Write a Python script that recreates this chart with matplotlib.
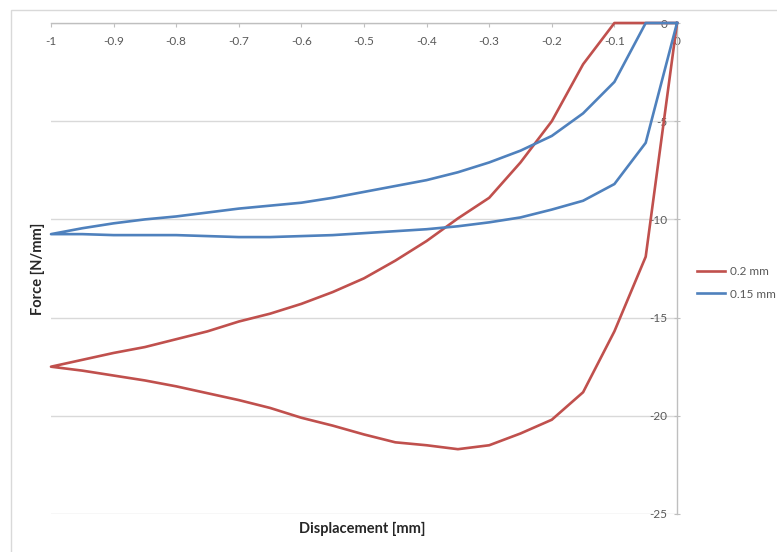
import matplotlib
matplotlib.use("Agg")
import matplotlib.pyplot as plt
from matplotlib.patches import Rectangle

plt.rcParams["font.family"] = ["Lato", "DejaVu Sans"]
plt.rcParams["axes.unicode_minus"] = False

# Displacement steps (mm), from 0 out to -1 and back again
disp_out = [0, -0.05, -0.1, -0.15, -0.2, -0.25, -0.3, -0.35, -0.4, -0.45, -0.5,
            -0.55, -0.6, -0.65, -0.7, -0.75, -0.8, -0.85, -0.9, -0.95, -1.0]
disp_back = [-0.95, -0.9, -0.85, -0.8, -0.75, -0.7, -0.65, -0.6, -0.55, -0.5,
             -0.45, -0.4, -0.35, -0.3, -0.25, -0.2, -0.15, -0.1, -0.05, 0]

# 0.2 mm case: force (N/mm)
force_02_out = [0, -11.9, -15.7, -18.8, -20.2, -20.9, -21.5, -21.7, -21.5, -21.35, -20.95,
                -20.5, -20.1, -19.6, -19.2, -18.85, -18.5, -18.2, -17.95, -17.7, -17.5]
force_02_back = [-17.15, -16.8, -16.5, -16.1, -15.7, -15.2, -14.8, -14.3, -13.7, -13.0,
                 -12.1, -11.1, -9.95, -8.9, -7.1, -5.0, -2.1, 0, 0, 0]

# 0.15 mm case: force (N/mm)
force_015_out = [0, -6.1, -8.2, -9.05, -9.5, -9.9, -10.15, -10.35, -10.5, -10.6, -10.7,
                 -10.8, -10.85, -10.9, -10.9, -10.85, -10.8, -10.8, -10.8, -10.75, -10.75]
force_015_back = [-10.45, -10.2, -10.0, -9.85, -9.65, -9.45, -9.3, -9.15, -8.9, -8.6,
                  -8.3, -8.0, -7.6, -7.1, -6.5, -5.75, -4.6, -3.0, 0, 0]

series_labels = ["0.2 mm", "0.15 mm"]
series_colors = ["#C0504D", "#4F81BD"]

x_ticks = [-1, -0.9, -0.8, -0.7, -0.6, -0.5, -0.4, -0.3, -0.2, -0.1, 0]
x_tick_labels = ["-1", "-0.9", "-0.8", "-0.7", "-0.6", "-0.5", "-0.4", "-0.3", "-0.2", "-0.1", "0"]
y_ticks = [0, -5, -10, -15, -20, -25]
y_tick_labels = ["0", "-5", "-10", "-15", "-20", "-25"]

W, H = 777, 552
fig = plt.figure(figsize=(W / 100, H / 100), dpi=100)

# chart-area outline
fig.patches.append(Rectangle((11 / W, -0.05), 1.1, 1 - 10 / H + 0.05,
                             transform=fig.transFigure, fill=False,
                             edgecolor="#d9d9d9", linewidth=1.0))

ax = fig.add_axes([51 / W, 1 - 514 / H, 626 / W, 491 / H])
ax.set_xlim(-1, 0)
ax.set_ylim(-25, 0)

lines = []
for xs_out, ys_out, ys_back, color, label in [
        (disp_out, force_02_out, force_02_back, series_colors[0], series_labels[0]),
        (disp_out, force_015_out, force_015_back, series_colors[1], series_labels[1])]:
    xs = list(xs_out) + list(disp_back)
    ys = list(ys_out) + list(ys_back)
    ln, = ax.plot(xs, ys, color=color, linewidth=1.9, label=label,
                  clip_on=False, solid_joinstyle="round", zorder=3)
    lines.append(ln)

# axes cross at the origin: x axis along the top, y axis along the right
for side in ("top", "right"):
    ax.spines[side].set_visible(False)
ax.spines["bottom"].set_position(("data", 0))
ax.spines["left"].set_position(("data", 0))
for side in ("bottom", "left"):
    ax.spines[side].set_color("#bfbfbf")
    ax.spines[side].set_linewidth(1.0)
    ax.spines[side].set_zorder(2)

ax.set_xticks(x_ticks)
ax.set_xticklabels(x_tick_labels)
ax.set_yticks(y_ticks)
ax.set_yticklabels(y_tick_labels)
ax.tick_params(axis="x", direction="out", length=3, width=0.8, color="#bfbfbf",
               labelsize=8.5, labelcolor="#595959", pad=6.5)
ax.tick_params(axis="y", direction="inout", length=5, width=0.8, color="#bfbfbf",
               labelsize=8.5, labelcolor="#595959", pad=4.5)

ax.yaxis.grid(True, color="#d9d9d9", linewidth=1.0)
ax.set_axisbelow(True)

ax.set_xlabel("Displacement [mm]", fontsize=10.5, fontweight="bold", color="#262626")
ax.xaxis.set_label_coords(0.498, -0.017)
ax.set_ylabel("Force [N/mm]", fontsize=10.5, fontweight="bold", color="#262626")
ax.yaxis.set_label_coords(-0.009, 0.50)

fig.legend(handles=lines, labels=series_labels, loc="center left",
           bbox_to_anchor=(697 / W, 1 - 283 / H), frameon=False,
           fontsize=8.5, labelcolor="#595959", handlelength=2.4,
           handletextpad=0.4, labelspacing=0.95, borderpad=0, borderaxespad=0)

fig.savefig("out.png", dpi=100)
